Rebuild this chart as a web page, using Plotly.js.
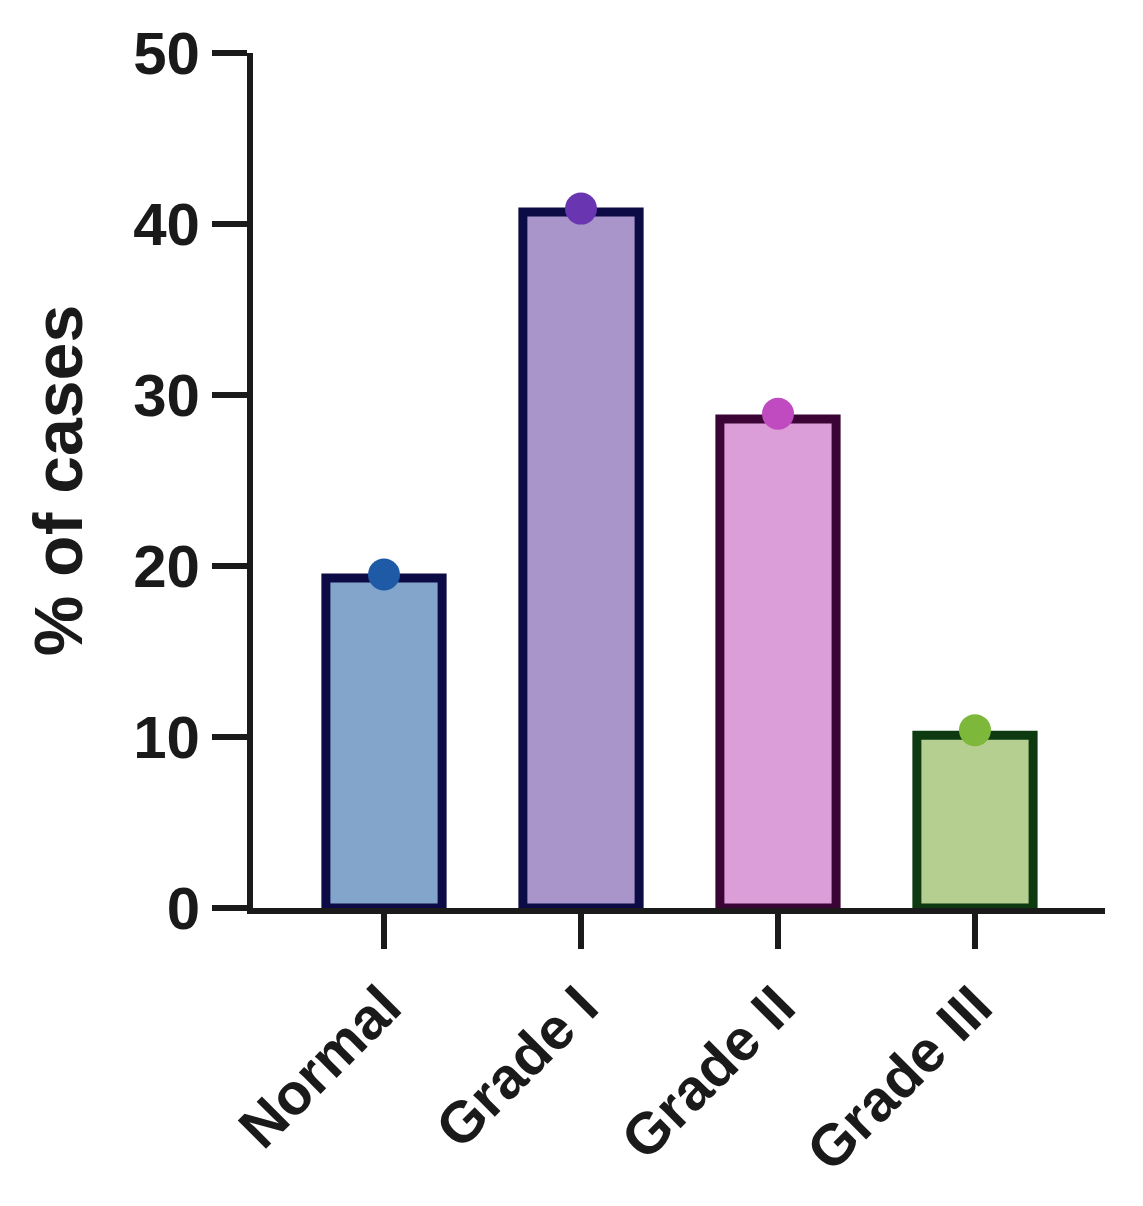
<!DOCTYPE html>
<html>
<head>
<meta charset="utf-8">
<script src="https://cdn.plot.ly/plotly-3.0.1.min.js"></script>
<style>html,body{margin:0;padding:0;background:#fff;}#chart{width:1143px;height:1206px;}</style>
</head>
<body>
<div id="chart"></div>
<script>
const categories = ["Normal", "Grade I", "Grade II", "Grade III"];
const barValues = [19.3, 40.7, 28.6, 10.1];
const pointValues = [19.5, 40.9, 28.9, 10.4];
const yTickValues = [0, 10, 20, 30, 40, 50];

const fillColors = ["#84a5cb", "#a995c9", "#dc9ed8", "#b5cf91"];
const edgeColors = ["#0c0b45", "#0c0b45", "#3a0535", "#0d3a10"];
const dotColors = ["#1f5aa6", "#6a35b0", "#c04ac0", "#7db83a"];

const font = "Liberation Sans, Arial, sans-serif";

const data = [
  {
    type: "bar",
    x: categories,
    y: barValues,
    width: 0.59,
    marker: {color: fillColors, line: {color: edgeColors, width: 9}},
    hoverinfo: "skip"
  },
  {
    type: "scatter",
    mode: "markers",
    x: categories,
    y: pointValues,
    marker: {color: dotColors, size: 32},
    cliponaxis: false
  }
];

const layout = {
  width: 1143,
  height: 1206,
  margin: {l: 253, r: 38, t: 53, b: 298},
  showlegend: false,
  paper_bgcolor: "#fff",
  plot_bgcolor: "#fff",
  font: {family: font, color: "#1a1a1a"},
  xaxis: {
    type: "category",
    range: [-0.665, 3.66],
    showline: true,
    linecolor: "#1a1a1a",
    linewidth: 6,
    ticks: "outside",
    ticklen: 35,
    tickwidth: 6,
    tickcolor: "#1a1a1a",
    tickangle: -45,
    tickfont: {family: font, size: 58, color: "#1a1a1a", weight: "bold"},
    showgrid: false,
    zeroline: false
  },
  yaxis: {
    range: [0, 50],
    tickvals: yTickValues,
    showline: true,
    linecolor: "#1a1a1a",
    linewidth: 6,
    ticks: "outside",
    ticklen: 35,
    tickwidth: 6,
    tickcolor: "#1a1a1a",
    tickfont: {family: font, size: 60, color: "#1a1a1a", weight: "bold"},
    showgrid: false,
    zeroline: false,
    title: {text: "% of cases", font: {family: font, size: 68, color: "#1a1a1a", weight: "bold"}, standoff: 30}
  }
};

Plotly.newPlot("chart", data, layout, {displayModeBar: false, staticPlot: true});
</script>
</body>
</html>
